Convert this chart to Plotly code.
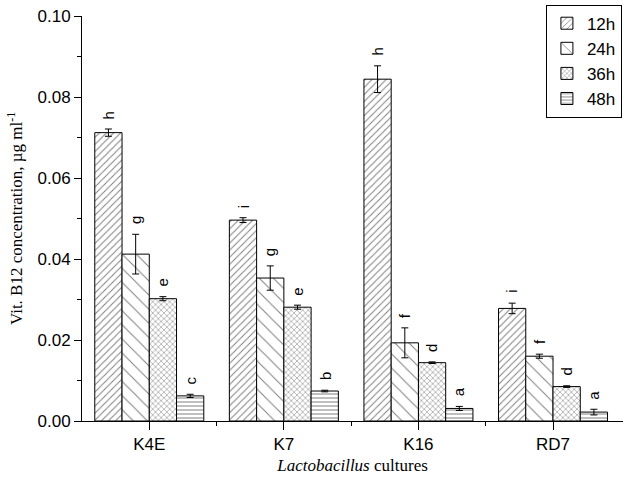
import plotly.graph_objects as go

cultures = ["K4E", "K7", "K16", "RD7"]
times = ["12h", "24h", "36h", "48h"]
values = {
    "12h": [0.0712, 0.0496, 0.0844, 0.0278],
    "24h": [0.0412, 0.0353, 0.0193, 0.0160],
    "36h": [0.0302, 0.0281, 0.0144, 0.0085],
    "48h": [0.0062, 0.0074, 0.0031, 0.0022],
}
errors = {
    "12h": [0.0009, 0.0006, 0.0033, 0.0013],
    "24h": [0.0049, 0.0030, 0.0037, 0.0005],
    "36h": [0.0005, 0.0005, 0.0002, 0.0002],
    "48h": [0.0004, 0.0002, 0.0005, 0.0007],
}
letters = {
    "12h": ["h", "i", "h", "i"],
    "24h": ["g", "g", "f", "f"],
    "36h": ["e", "e", "d", "d"],
    "48h": ["c", "b", "a", "a"],
}
patterns = {"12h": ("/", 5, 0.2), "24h": ("\\", 10, 0.1), "36h": ("x", 4, 0.25), "48h": ("-", 4, 0.25)}

bargap = 0.19
xs = list(range(len(cultures)))

fig = go.Figure()
for t in times:
    shape, size, sol = patterns[t]
    fig.add_trace(go.Bar(
        x=xs, y=values[t], name=t,
        marker=dict(color="white", line=dict(color="black", width=1),
                    pattern=dict(shape=shape, size=size, solidity=sol,
                                 fgcolor="black", bgcolor="white")),
        error_y=dict(type="data", array=errors[t], color="black",
                     thickness=1, width=3.5),
    ))

bw = (1 - bargap) / len(times)
for j, t in enumerate(times):
    for i in xs:
        fig.add_annotation(
            x=i + (j - (len(times) - 1) / 2) * bw,
            y=values[t][i] + errors[t][i],
            text=letters[t][i], showarrow=False, textangle=-90,
            yanchor="bottom", yshift=8,
            font=dict(family="Liberation Sans, Arial", size=15, color="black"),
        )

fig.update_layout(
    width=626, height=481,
    margin=dict(l=82, r=3, t=16, b=60),
    paper_bgcolor="white", plot_bgcolor="white",
    barmode="group", bargap=bargap, bargroupgap=0,
    font=dict(family="Liberation Sans, Arial", size=16, color="black"),
    legend=dict(x=0.998, y=1.028, xanchor="right", yanchor="top",
                bordercolor="black", borderwidth=1, bgcolor="white",
                font=dict(size=17), tracegroupgap=0),
    showlegend=True,
)
fig.update_xaxes(
    range=[-0.5, 3.52], tickmode="array", tickvals=xs, ticktext=cultures,
    tickfont=dict(size=17),
    showline=True, linecolor="black", linewidth=1, showgrid=False, zeroline=False,
    ticks="outside", ticklen=8, tickcolor="black",
    minor=dict(tickmode="array", tickvals=[0.5, 1.5, 2.5], ticks="outside", ticklen=4, tickcolor="black"),
    title=dict(text="<i>Lactobacillus</i> cultures",
               font=dict(family="Liberation Serif, Times New Roman", size=17), standoff=5),
)
fig.update_yaxes(
    range=[0, 0.1], tickmode="array", tickvals=[0, 0.02, 0.04, 0.06, 0.08, 0.10],
    tickformat=".2f", tickfont=dict(size=17),
    showline=True, linecolor="black", linewidth=1, showgrid=False, zeroline=False,
    ticks="outside", ticklen=7, tickcolor="black",
    minor=dict(tickmode="array", tickvals=[0.01, 0.03, 0.05, 0.07, 0.09], ticks="outside", ticklen=4, tickcolor="black"),
    title=dict(text="Vit. B12 concentration, µg ml<sup>-1</sup>",
               font=dict(family="Liberation Serif, Times New Roman", size=17), standoff=10),
)

fig.write_html("out.html", config={"displayModeBar": False},
               post_script="document.body.style.margin='0';")
